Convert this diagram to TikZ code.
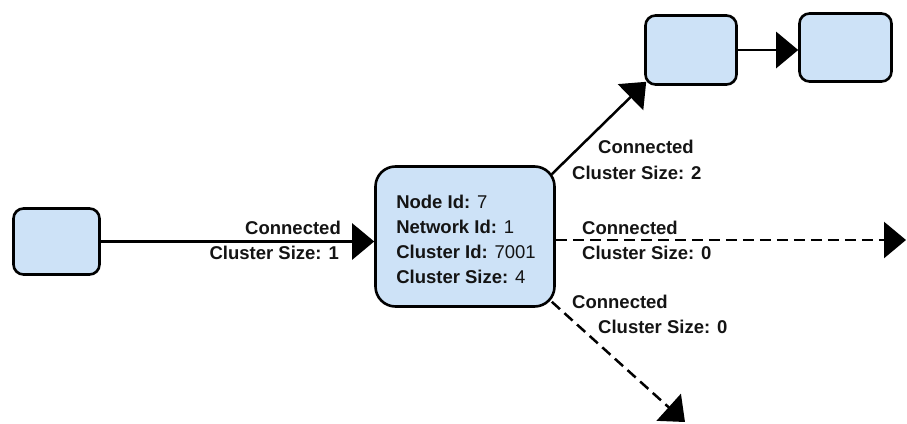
\documentclass[tikz,border=0pt]{standalone}
\usepackage{fontspec}
\setmainfont{Liberation Sans}
\usetikzlibrary{arrows.meta,calc}
\definecolor{boxblue}{RGB}{205,226,247}
\definecolor{txt}{RGB}{20,20,20}
\tikzset{
  box/.style={draw=black, fill=boxblue, line width=2.6pt, rounded corners=10pt, inner sep=0pt},
  conn/.style={line width=2.5pt, -{Triangle[length=22pt,width=36pt]}},
  dconn/.style={conn, dash pattern=on 11pt off 6pt},
  lbl/.style={inner sep=0pt, text=txt, font=\fontsize{18.5}{25}\selectfont\bfseries},
}
\begin{document}
\begin{tikzpicture}[x=1pt,y=-1pt]
\useasboundingbox (0,0) rectangle (907,423);
\node[box, minimum width=86pt, minimum height=66pt] (left) at (56.5,241.5) {};
\node[box, minimum width=91pt, minimum height=69pt] (top1) at (691,50) {};
\node[box, minimum width=92pt, minimum height=68pt] (top2) at (845.5,47.5) {};
\node[box, rounded corners=20pt, minimum width=179pt, minimum height=140pt, align=left,
      text=txt, font=\fontsize{18.5}{25}\selectfont] (main) at (465,236.5)
  {\rule{0pt}{19pt}\hspace{2pt}\textbf{Node Id:} 7\\
   \hspace{2pt}\textbf{Network Id:} 1\\
   \hspace{2pt}\textbf{Cluster Id:} 7001\\
   \hspace{2pt}\textbf{Cluster Size:} 4};
\coordinate (dashend) at (906,240);
\coordinate (downend) at (685,422);
\draw[conn] (left.east) -- (left.east -| main.west);
\draw[conn] ($(main.north east)+(-4,9)$) -- ($(top1.south west)+(2,-4)$);
\draw[conn] (top1.east) -- (top1.east -| top2.west);
\draw[dconn] (main.east |- dashend) -- (dashend);
\draw[dconn] ($(main.south east)+(-4,-6)$) -- (downend);
\node[lbl, anchor=base east] (l1a) at (341,234) {Connected};
\node[lbl, anchor=base east] (l1b) at (339,259) {Cluster Size: 1};
\node[lbl, anchor=base west] (l2a) at (598,153) {Connected};
\node[lbl, anchor=base west] (l2b) at (572,179) {Cluster Size: 2};
\node[lbl, anchor=base west] (l3a) at (582,234) {Connected};
\node[lbl, anchor=base west] (l3b) at (582,259) {Cluster Size: 0};
\node[lbl, anchor=base west] (l4a) at (572,308) {Connected};
\node[lbl, anchor=base west] (l4b) at (598,333) {Cluster Size: 0};
\end{tikzpicture}
\end{document}
